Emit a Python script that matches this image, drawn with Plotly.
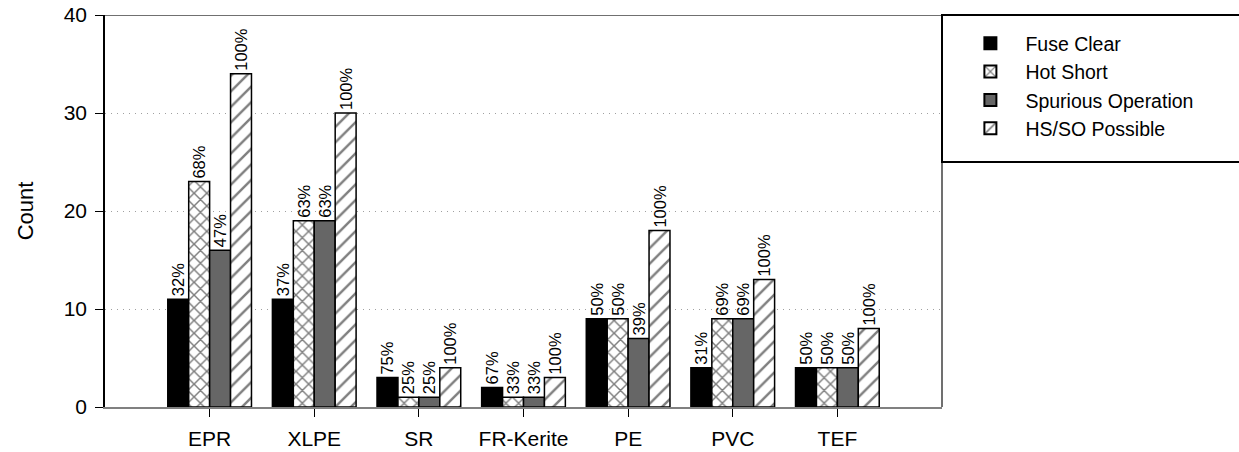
import plotly.graph_objects as go

categories = ["EPR", "XLPE", "SR", "FR-Kerite", "PE", "PVC", "TEF"]
fuse_clear = [11, 11, 3, 2, 9, 4, 4]
hot_short = [23, 19, 1, 1, 9, 9, 4]
spurious_op = [16, 19, 1, 1, 7, 9, 4]
hsso_possible = [34, 30, 4, 3, 18, 13, 8]
fuse_pct = ["32%", "37%", "75%", "67%", "50%", "31%", "50%"]
hot_pct = ["68%", "63%", "25%", "33%", "50%", "69%", "50%"]
spur_pct = ["47%", "63%", "25%", "33%", "39%", "69%", "50%"]
hsso_pct = ["100%", "100%", "100%", "100%", "100%", "100%", "100%"]
y_ticks = [0, 10, 20, 30, 40]

FONT = "Liberation Sans, Arial, sans-serif"
xpos = list(range(len(categories)))

series = [
    ("Fuse Clear", fuse_clear, fuse_pct, dict(color="black")),
    ("Hot Short", hot_short, hot_pct, dict(color="white", pattern=dict(shape="x", fgcolor="black", bgcolor="white", size=9, solidity=0.3))),
    ("Spurious Operation", spurious_op, spur_pct, dict(color="#666666")),
    ("HS/SO Possible", hsso_possible, hsso_pct, dict(color="white", pattern=dict(shape="/", fgcolor="black", bgcolor="white", size=11, solidity=0.22))),
]

fig = go.Figure()
for name, vals, pcts, mk in series:
    mk = dict(mk)
    mk["line"] = dict(color="black", width=1.5)
    fig.add_trace(go.Bar(
        x=xpos, y=vals, name=name, text=pcts,
        textposition="outside", textangle=-90, constraintext="none",
        textfont=dict(family=FONT, size=16.5, color="black"),
        cliponaxis=False, marker=mk,
    ))

fig.update_layout(
    width=1239, height=452,
    margin=dict(l=105, r=297, t=15, b=45),
    paper_bgcolor="white", plot_bgcolor="white",
    barmode="group", bargap=0.2, bargroupgap=0,
    font=dict(family=FONT, size=20, color="black"),
    showlegend=True,
    legend=dict(x=1.016, y=0.977, xanchor="left", yanchor="top",
                font=dict(family=FONT, size=19.5, color="black"),
                bgcolor="rgba(0,0,0,0)", borderwidth=0,
                tracegroupgap=1, itemsizing="constant", itemwidth=60),
    xaxis=dict(range=[-1, 7], tickvals=xpos, ticktext=categories,
               ticks="outside", ticklen=8, tickcolor="black", tickwidth=1,
               showline=True, linecolor="#808080", linewidth=1.5,
               showgrid=False, zeroline=False, automargin=False,
               ticklabelstandoff=4,
               tickfont=dict(family=FONT, size=21, color="black")),
    yaxis=dict(range=[0, 40], tickvals=y_ticks,
               ticks="outside", ticklen=8, tickcolor="black", tickwidth=1,
               showline=True, linecolor="black", linewidth=1.5,
               showgrid=True, gridcolor="#a0a0a0", griddash="1px,5px", gridwidth=1,
               zeroline=False, automargin=False,
               ticklabelstandoff=4,
               title=dict(text="Count", font=dict(family=FONT, size=22, color="black"), standoff=24),
               tickfont=dict(family=FONT, size=21, color="black")),
    shapes=[
        dict(type="line", xref="paper", yref="y", x0=0, x1=1, y0=40, y1=40,
             line=dict(color="#707070", width=2)),
        dict(type="line", xref="paper", yref="y", x0=1, x1=1, y0=0, y1=40,
             line=dict(color="#707070", width=2)),
        dict(type="rect", xref="paper", yref="paper", x0=1.0, x1=1.36, y0=0.625, y1=1.0,
             line=dict(color="black", width=2), fillcolor="rgba(0,0,0,0)"),
    ],
)

fig.write_html("out.html", config={"displayModeBar": False},
               post_script="document.body.style.margin='0';document.body.style.overflow='hidden';")
